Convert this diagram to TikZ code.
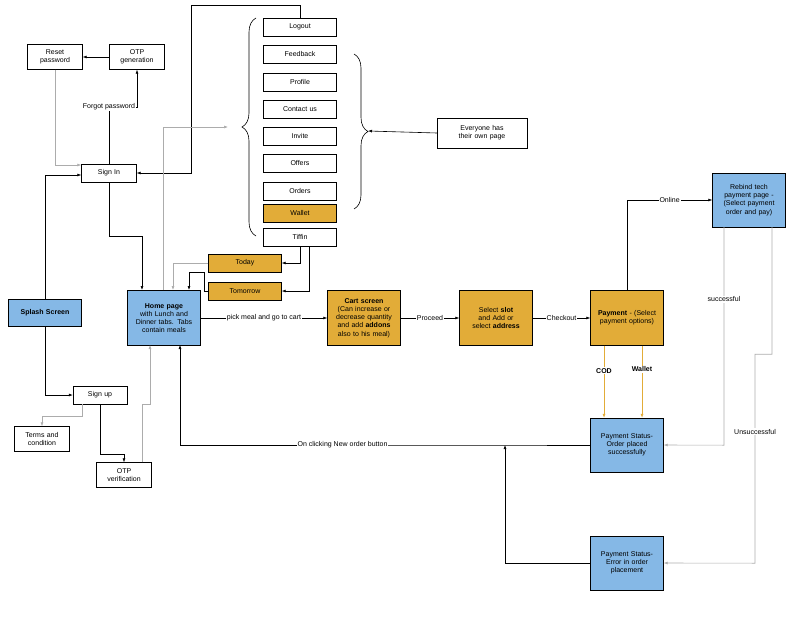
\documentclass[tikz,border=0pt]{standalone}
\usepackage{fontspec}
\setmainfont{Liberation Sans}
\usetikzlibrary{calc,decorations.pathreplacing,arrows.meta}
\definecolor{paleblue}{HTML}{85B8E6}
\definecolor{mealorange}{HTML}{E2AC38}
\hyphenpenalty=10000
\exhyphenpenalty=10000
\tikzset{
  box/.style={draw, minimum width=73pt, minimum height=18pt, inner sep=1pt, align=center, text width=64pt},
  bigbox/.style={box, minimum height=55pt},
  bluebox/.style={bigbox, fill=paleblue},
  orangebox/.style={bigbox, fill=mealorange},
  smallbox/.style={box, minimum width=55pt, minimum height=25pt, text width=46pt},
  link/.style={-{Latex[length=4pt,width=3pt]}, semithick},
  glink/.style={link, gray!65},
  lbl/.style={fill=white, inner sep=1pt, text=black},
}
\begin{document}
\begin{tikzpicture}[x=1pt,y=-1pt,every node/.style={font=\fontsize{7}{8.2}\selectfont}]
  \useasboundingbox (0,0) rectangle (800,618);
  % menu tabs
  \node[box] (logout) at (300,27) {Logout};
  \node[box] (feedback) at (300,54) {Feedback};
  \node[box] (profile) at (300,82) {Profile};
  \node[box] (contact) at (300,109) {Contact us};
  \node[box] (invite) at (300,136) {Invite};
  \node[box] (offers) at (300,163) {Offers};
  \node[box] (orders) at (300,191) {Orders};
  \node[box, fill=mealorange] (wallet) at (300,213) {Wallet};
  \node[box] (tiffin) at (300,237) {Tiffin};
  \node[draw, minimum width=90pt, minimum height=30pt, text width=80pt, align=center] (everyone) at (482,133) {Everyone has their own page};
  \draw[semithick, decorate, decoration={brace, amplitude=14pt}] (256,236) -- (256,18);
  \draw[semithick, decorate, decoration={brace, amplitude=14pt}] (354,54) -- (354,209);
  \coordinate (ltip) at (228,127);
  \coordinate (rtip) at (368,131);
  \draw[link] (everyone.west) -- (rtip);

  % sign in side
  \node[smallbox] (reset) at (55,57) {Reset password};
  \node[smallbox] (otpgen) at (137,57) {OTP generation};
  \node[box, minimum width=55pt, text width=46pt] (signin) at (109,173) {Sign In};
  \node[box, fill=paleblue, minimum height=27pt] (splash) at (45,313) {\textbf{Splash Screen}};
  \node[box, minimum width=54pt, text width=46pt] (signup) at (100,395) {Sign up};
  \node[smallbox] (terms) at (42,439) {Terms and condition};
  \node[smallbox] (otpver) at (124,475) {OTP verification};

  % main flow
  \node[bluebox] (home) at (164,318) {\textbf{Home page} with Lunch and Dinner tabs. Tabs contain meals};
  \node[box, fill=mealorange] (today) at (245,263) {Today};
  \node[box, fill=mealorange] (tomorrow) at (245,291) {Tomorrow};
  \node[orangebox, text width=68pt] (cart) at (364,318) {\textbf{Cart screen} (Can increase or decrease quantity and add \textbf{addons} also to his meal)};
  \node[orangebox, text width=60pt] (slot) at (496,318) {Select \textbf{slot} and Add or select \textbf{address}};
  \node[orangebox, text width=68pt] (payment) at (627,318) {\textbf{Payment} - (Select payment options)};
  \node[bluebox, minimum height=54pt] (rebind) at (749,200) {Rebind tech payment page - (Select payment order and pay)};
  \node[bluebox, minimum height=54pt, text width=62pt] (success) at (627,445) {Payment Status- Order placed successfully};
  \node[bluebox, minimum height=54pt, text width=62pt] (error) at (627,563) {Payment Status- Error in order placement};

  % connectors
  \draw[link] (otpgen.west) -- (reset.east);
  \draw[link] (signin.north) -- ++(0,-57) node[lbl] {Forgot password} -| (otpgen.south);
  \draw[glink] (reset.south) |- ($(signin.west)+(0,-8)$);
  \draw[link] (splash.north) |- ($(signin.west)+(0,2)$);
  \draw[link] (signin.south) |- (142,236) -- (142,290);
  \draw[link] (logout.north) |- (191,5) |- (signin.east);
  \draw[glink] (163,290) |- (ltip);
  \draw[link] ($(tiffin.south)+(0,0)$) |- (today.east);
  \draw[link] ($(tiffin.south)+(9,0)$) |- (tomorrow.east);
  \draw[glink] (today.west) -| (173,290);
  \draw[link] (tomorrow.west) -- (204,291) |- (189,272) -- (189,290);
  \draw[link] (home.east) -- node[lbl] {pick meal and go to cart} (cart.west);
  \draw[link] (cart.east) -- node[lbl] {Proceed} (slot.west);
  \draw[link] (slot.east) -- node[lbl] {Checkout} (payment.west);
  \draw[link] (payment.north) |- node[lbl, pos=0.75] {Online} (rebind.west);
  \draw[link, mealorange] ($(payment.south)+(-23,0)$) -- node[lbl, pos=0.35] {\textbf{COD}} ($(success.north)+(-23,0)$);
  \draw[link, mealorange] ($(payment.south)+(15,0)$) -- node[lbl, pos=0.33] {\textbf{Wallet}} ($(success.north)+(15,0)$);
  \draw[glink] ($(rebind.south)+(-25,0)$) -- node[lbl, pos=0.33] {successful} ++(0,218) -- (success.east);
  \draw[glink] ($(rebind.south)+(23,0)$) -- ++(0,127) -- ++(-17,0) -- node[lbl, pos=0.37] {Unsuccessful} ++(0,209) -- (error.east);
  \coordinate (join) at (505,445);
  \draw[link] (success.west) -- (join) -- node[lbl] {On clicking New order button} (180,445) -- (180,345);
  \draw[link] (error.west) -| (join);
  \draw[link] (splash.south) |- (signup.west);
  \draw[glink] ($(signup.south)+(-18,0)$) |- (42,416) -- (terms.north);
  \draw[link] (signup.south) |- (124,454) -- (otpver.north);
  \draw[glink] ($(otpver.north)+(18,0)$) |- (150,404) -- (150,345);
\end{tikzpicture}
\end{document}
